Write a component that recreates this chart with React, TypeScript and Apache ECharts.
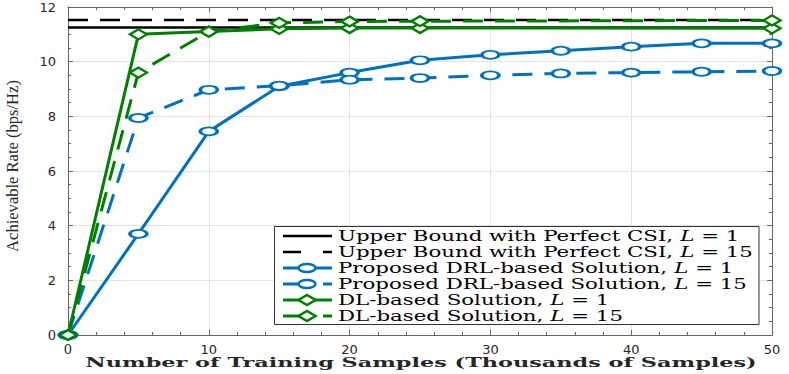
import React, { useEffect, useRef } from 'react';
import * as echarts from 'echarts';

// ---- data ----
const xFull = [0, 5, 10, 15, 20, 25, 30, 35, 40, 45, 50];
const xDL = [0, 5, 10, 15, 20, 25, 50];
const xBound = [0, 50];
const upperL1 = [11.25, 11.25];
const upperL15 = [11.52, 11.52];
const drlL1 = [0, 3.7, 7.45, 9.1, 9.6, 10.05, 10.25, 10.4, 10.55, 10.67, 10.67];
const drlL15 = [0, 7.94, 8.97, 9.12, 9.34, 9.4, 9.5, 9.57, 9.6, 9.63, 9.66];
const dlL1 = [0, 11.0, 11.1, 11.2, 11.23, 11.23, 11.22];
const dlL15 = [0, 9.6, 11.1, 11.42, 11.47, 11.48, 11.51];

const seriesNames = [
  'Upper Bound with Perfect CSI, L = 1',
  'Upper Bound with Perfect CSI, L = 15',
  'Proposed DRL-based Solution, L = 1',
  'Proposed DRL-based Solution, L = 15',
  'DL-based Solution, L = 1',
  'DL-based Solution, L = 15',
];
const xTitle = 'Number of Training Samples (Thousands of Samples)';
const yTitle = 'Achievable Rate (bps/Hz)';

const BLUE = '#0072BD';
const GREEN = '#008000';
const BLACK = '#000000';
const DASH = [20, 12];

const zip = (xs: number[], ys: number[]) => xs.map((x, i) => [x, ys[i]]);

function measure(text: string, font: string): number {
  const c = document.createElement('canvas');
  const ctx = c.getContext('2d');
  if (!ctx) return text.length * 8;
  ctx.font = font;
  return ctx.measureText(text).width;
}

export default function App() {
  const ref = useRef<HTMLDivElement>(null);
  useEffect(() => {
    if (!ref.current) return;
    const chart = echarts.init(ref.current, undefined, { renderer: 'svg' });

    const legendFont = '14px "DejaVu Serif"';
    const legendScale = 415 / measure(seriesNames[1], legendFont);
    const xTitleFont = 'bold 12px "DejaVu Serif"';
    const xTitleScale = 672 / measure(xTitle, xTitleFont);
    const yTitleFont = '17px "Liberation Serif"';
    const yTitleScale = 172 / measure(yTitle, yTitleFont);

    const styles = [
      { color: BLACK, dash: 'solid', marker: 'none' },
      { color: BLACK, dash: DASH, marker: 'none' },
      { color: BLUE, dash: 'solid', marker: 'circle' },
      { color: BLUE, dash: DASH, marker: 'circle' },
      { color: GREEN, dash: 'solid', marker: 'diamond' },
      { color: GREEN, dash: DASH, marker: 'diamond' },
    ];
    const datas = [
      zip(xBound, upperL1),
      zip(xBound, upperL15),
      zip(xFull, drlL1),
      zip(xFull, drlL15),
      zip(xDL, dlL1),
      zip(xDL, dlL15),
    ];

    const series = styles.map((s, i) => ({
      type: 'line',
      name: seriesNames[i],
      data: datas[i],
      xAxisIndex: 0,
      yAxisIndex: 0,
      symbol: s.marker,
      symbolSize: s.marker === 'circle' ? [17, 8] : [17, 10],
      showAllSymbol: true,
      lineStyle: { color: s.color, width: s.color === BLACK ? 2.5 : 3, type: s.dash },
      itemStyle: { color: '#ffffff', borderColor: s.color, borderWidth: 2.5 },
      emphasis: { disabled: true },
      z: 2 + i,
    }));

    // legend drawn as graphic
    const lg: any[] = [];
    const boxX = 274.5, boxY = 226.5, boxW = 484.5, boxH = 98;
    lg.push({
      type: 'rect',
      shape: { x: boxX, y: boxY, width: boxW, height: boxH },
      style: { fill: '#ffffff', stroke: '#333333', lineWidth: 1 },
      z: 100,
    });
    styles.forEach((s, i) => {
      const cy = 236 + 16 * i;
      lg.push({
        type: 'line',
        shape: { x1: 283, y1: cy, x2: 332, y2: cy },
        style: {
          stroke: s.color,
          lineWidth: s.color === BLACK ? 2.5 : 3,
          lineDash: s.dash === 'solid' ? null : [18, 22],
        },
        z: 101,
      });
      if (s.marker === 'circle') {
        lg.push({
          type: 'ellipse',
          shape: { cx: 307, cy, rx: 8.5, ry: 4 },
          style: { fill: '#ffffff', stroke: s.color, lineWidth: 2.5 },
          z: 102,
        });
      } else if (s.marker === 'diamond') {
        lg.push({
          type: 'polygon',
          shape: { points: [[298.5, cy], [307, cy - 5], [315.5, cy], [307, cy + 5]] },
          style: { fill: '#ffffff', stroke: s.color, lineWidth: 2.5 },
          z: 102,
        });
      }
      const name = seriesNames[i];
      const k = name.lastIndexOf('L = ');
      lg.push({
        type: 'text',
        x: 338,
        y: cy,
        scaleX: legendScale,
        style: {
          text: name.slice(0, k) + '{i|L} = ' + name.slice(k + 4),
          font: legendFont,
          fill: '#000000',
          align: 'left',
          verticalAlign: 'middle',
          rich: { i: { fontStyle: 'italic', fontFamily: 'DejaVu Serif', fontSize: 14 } },
        },
        z: 103,
      });
    });
    lg.push({
      type: 'text',
      x: 421,
      y: 363,
      scaleX: xTitleScale,
      style: {
        text: xTitle,
        font: xTitleFont,
        fill: '#262626',
        align: 'center',
        verticalAlign: 'middle',
      },
      z: 100,
    });
    lg.push({
      type: 'text',
      x: 12,
      y: 166,
      rotation: Math.PI / 2,
      scaleX: yTitleScale,
      style: {
        text: yTitle,
        font: yTitleFont,
        fill: '#262626',
        align: 'center',
        verticalAlign: 'middle',
      },
      z: 100,
    });

    const axisColor = '#666666';
    const labelColor = '#262626';
    const zeroFmt = (v: number) => (v === 0 ? '{s|0}' : String(v));
    const rich = { s: { fontFamily: 'DejaVu Serif', fontSize: 13, color: labelColor } };

    const option: any = {
      animation: false,
      backgroundColor: '#ffffff',
      grid: { left: 68, right: 17, top: 7, bottom: 39, containLabel: false, outerBoundsMode: 'none' },
      xAxis: [
        {
          type: 'value', min: 0, max: 50, interval: 10, position: 'bottom',
          axisLine: { show: true, onZero: false, lineStyle: { color: axisColor, width: 1 } },
          axisTick: { show: true, inside: true, length: 5, lineStyle: { color: axisColor } },
          minorTick: { show: true, splitNumber: 5, length: 3, lineStyle: { color: axisColor } },
          splitLine: { show: true, lineStyle: { color: '#e3e3e3', width: 1 } },
          axisLabel: { color: labelColor, fontFamily: 'DejaVu Sans', fontSize: 13, margin: 8, formatter: zeroFmt, rich },
        },
        {
          type: 'value', min: 0, max: 50, interval: 10, position: 'top',
          axisLine: { show: true, onZero: false, lineStyle: { color: axisColor, width: 1 } },
          axisTick: { show: true, inside: true, length: 5, lineStyle: { color: axisColor } },
          minorTick: { show: true, splitNumber: 5, length: 3, lineStyle: { color: axisColor } },
          splitLine: { show: false },
          axisLabel: { show: false },
        },
      ],
      yAxis: [
        {
          type: 'value', min: 0, max: 12, interval: 2, position: 'left',
          axisLine: { show: true, onZero: false, lineStyle: { color: axisColor, width: 1 } },
          axisTick: { show: true, inside: true, length: 5, lineStyle: { color: axisColor } },
          minorTick: { show: true, splitNumber: 4, length: 3, lineStyle: { color: axisColor } },
          splitLine: { show: true, lineStyle: { color: '#e3e3e3', width: 1 } },
          axisLabel: { color: labelColor, fontFamily: 'DejaVu Sans', fontSize: 13, margin: 12, formatter: zeroFmt, rich },
        },
        {
          type: 'value', min: 0, max: 12, interval: 2, position: 'right',
          axisLine: { show: true, onZero: false, lineStyle: { color: axisColor, width: 1 } },
          axisTick: { show: true, inside: true, length: 5, lineStyle: { color: axisColor } },
          minorTick: { show: true, splitNumber: 4, length: 3, lineStyle: { color: axisColor } },
          splitLine: { show: false },
          axisLabel: { show: false },
        },
      ],
      series,
      graphic: lg,
    };
    chart.setOption(option);
    return () => chart.dispose();
  }, []);
  return (
    <div
      ref={ref}
      style={{ position: 'fixed', left: 0, top: 0, width: 789, height: 374, background: '#fff' }}
    />
  );
}
